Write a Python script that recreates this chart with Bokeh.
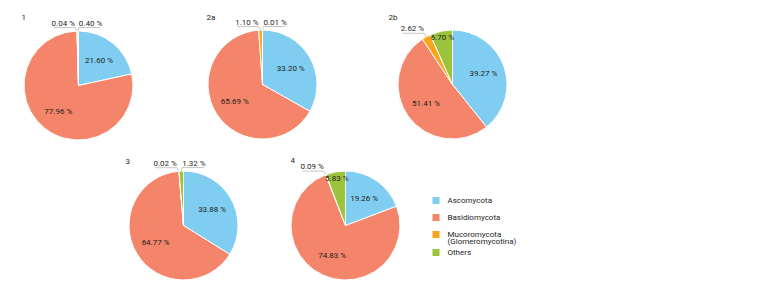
import math
from bokeh.plotting import figure
from bokeh.models import Range1d
from bokeh.core.properties import value
from bokeh.embed import file_html
from bokeh.resources import INLINE

# ---- data ----
samples = ["1", "2a", "2b", "3", "4"]
categories = ["Ascomycota", "Basidiomycota", "Mucoromycota", "Others"]
legend_line1 = ["Ascomycota", "Basidiomycota", "Mucoromycota", "Others"]
legend_line2 = ["", "", "(Glomeromycotina)", ""]
ascomycota = [21.60, 33.20, 39.27, 33.88, 19.26]
basidiomycota = [77.96, 65.69, 51.41, 64.77, 74.83]
mucoromycota = [0.04, 1.10, 2.62, 0.02, 0.09]
others = [0.40, 0.01, 6.70, 1.32, 5.83]

# ---- style / layout ----
colors = ["#7fcdf1", "#f4846a", "#f9a51b", "#9bc43d"]
centers = [(78, 92), (262, 91), (452, 91), (183, 232), (345, 232)]
title_pos = [(21, 24), (206, 24), (388, 24), (125, 168), (290, 167)]
R = 54.5
FONT = value("Roboto")
TXT = "#231f20"
W, H = 746, 281
SHIFT = 7

p = figure(width=W, height=H, x_range=Range1d(0, W), y_range=Range1d(-H - SHIFT, -SHIFT),
           output_backend="svg", toolbar_location=None, min_border=0)
p.axis.visible = False
p.grid.visible = False
p.outline_line_color = None

wx, wy, ws, we, wc = [], [], [], [], []
in_x, in_y, in_t = [], [], []
lo_x, lo_y, lo_t = [], [], []
ro_x, ro_y, ro_t = [], [], []
seg_xs, seg_ys = [], []

series = [ascomycota, basidiomycota, mucoromycota, others]
for i, s in enumerate(samples):
    cx, cy = centers[i]
    vals = [ser[i] for ser in series]
    total = sum(vals)
    cum = 0.0
    for k, v in enumerate(vals):
        f0 = cum / total
        f1 = (cum + v) / total
        cum += v
        wx.append(cx); wy.append(-cy)
        ws.append(math.pi / 2 - 2 * math.pi * f0)
        we.append(math.pi / 2 - 2 * math.pi * f1)
        wc.append(colors[k])
        fm = (f0 + f1) / 2
        th = 2 * math.pi * fm
        lab = f"{v:.2f} %"
        if v >= 5:
            fac = 0.6 if v >= 15 else 0.88
            in_x.append(cx + fac * R * math.sin(th))
            in_y.append(-(cy - fac * R * math.cos(th)))
            in_t.append(lab)
        else:
            ax = cx + R * math.sin(th)
            ay = cy - R * math.cos(th)
            ty = ay - 8
            tw = len(lab) * 3.6
            uy = ty + 4.5
            if k == 2:
                rx = ax - 2
                lo_x.append(rx); lo_y.append(-ty); lo_t.append(lab)
                seg_xs.append([rx - tw, rx, ax]); seg_ys.append([-uy, -uy, -ay])
            else:
                lx = ax + 1
                ro_x.append(lx); ro_y.append(-ty); ro_t.append(lab)
                seg_xs.append([lx + tw, lx, ax]); seg_ys.append([-uy, -uy, -ay])

p.multi_line(xs=seg_xs, ys=seg_ys, line_color="#b8b8b8", line_width=0.8)
p.wedge(x=wx, y=wy, radius=R, start_angle=ws, end_angle=we, direction="clock",
        fill_color=wc, line_color="white", line_width=1)

common = dict(text_font=FONT, text_font_size="8px", text_color=TXT, text_baseline="middle")
p.text(x=in_x, y=in_y, text=in_t, text_align="center", **common)
p.text(x=lo_x, y=lo_y, text=lo_t, text_align="right", **common)
p.text(x=ro_x, y=ro_y, text=ro_t, text_align="left", **common)

p.text(x=[t[0] for t in title_pos], y=[-t[1] for t in title_pos], text=samples,
       text_align="left", **common)

leg_y = [207, 224, 241, 259]
p.rect(x=[435.5] * 4, y=[-v for v in leg_y], width=7, height=7, fill_color=colors, line_color=None)
p.text(x=[447] * 4, y=[-v for v in leg_y], text=legend_line1, text_align="left", **common)
p.text(x=[447], y=[-(leg_y[2] + 7)], text=[legend_line2[2]], text_align="left", **common)

open("out.html", "w").write(file_html(p, INLINE))
